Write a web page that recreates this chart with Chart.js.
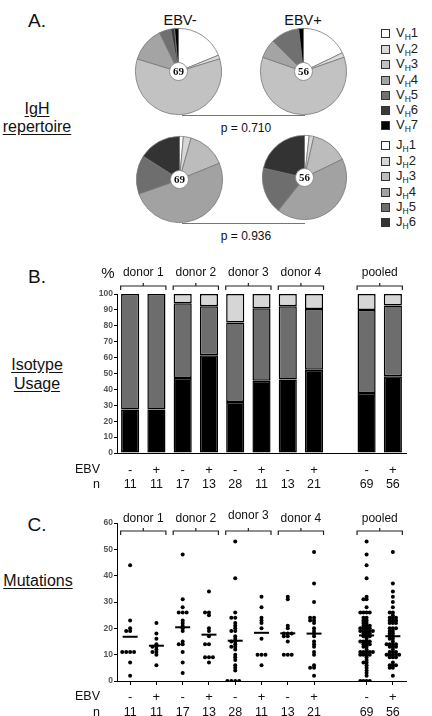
<!DOCTYPE html>
<html>
<head>
<meta charset="utf-8">
<script src="https://cdn.jsdelivr.net/npm/chart.js@4.4.1/dist/chart.umd.min.js"></script>
<style>
  body { margin: 0; width: 432px; height: 716px; position: relative; overflow: hidden; background: #fff;
         font-family: "Liberation Sans", Arial, sans-serif; color: #111; }
  .t { position: absolute; white-space: nowrap; line-height: 1; transform: translate(-50%, -50%); }
  .u { text-decoration: underline; text-underline-offset: 2px; }
  .box { position: absolute; }
  .rule { position: absolute; border-top: 1.5px solid #777; }
  .leg { position: absolute; font-size: 13px; line-height: 1; white-space: nowrap; color: #222; }
  .leg i { display: inline-block; width: 7px; height: 7px; border: 1.5px solid #333; vertical-align: -1px; margin-right: 6px; }
  .leg sub { font-size: 8.5px; vertical-align: -3px; line-height: 0; color: #222; }
</style>
</head>
<body>

<div class="t" style="left:37px;top:20px;font-size:19px">A.</div>
<div class="t" style="left:180px;top:20px;font-size:14.5px">EBV-</div>
<div class="t" style="left:303px;top:20px;font-size:14.5px">EBV+</div>
<div class="t u" style="left:37px;top:109px;font-size:16px">IgH</div>
<div class="t u" style="left:37px;top:127px;font-size:16px">repertoire</div>
<div class="rule" style="left:182px;top:115px;width:123px"></div>
<div class="t" style="left:246px;top:128px;font-size:12px">p = 0.710</div>
<div class="rule" style="left:182px;top:223px;width:123px"></div>
<div class="t" style="left:246px;top:236px;font-size:12px">p = 0.936</div>

<div class="box" style="left:134px;top:27px;width:89px;height:89px"><canvas id="pieVhNeg"></canvas></div>
<div class="box" style="left:259px;top:27px;width:89px;height:89px"><canvas id="pieVhPos"></canvas></div>
<div class="box" style="left:135px;top:135px;width:89px;height:89px"><canvas id="pieJhNeg"></canvas></div>
<div class="box" style="left:261px;top:134px;width:87px;height:87px"><canvas id="pieJhPos"></canvas></div>

<div id="legend"></div>

<div class="t" style="left:37px;top:276px;font-size:19px">B.</div>
<div class="t u" style="left:37px;top:365px;font-size:16px">Isotype</div>
<div class="t u" style="left:37px;top:384px;font-size:16px">Usage</div>
<div class="box" style="left:0;top:260px;width:432px;height:240px"><canvas id="barB"></canvas></div>

<div class="t" style="left:37px;top:524px;font-size:19px">C.</div>
<div class="t u" style="left:38px;top:581px;font-size:16px">Mutations</div>
<div class="box" style="left:0;top:500px;width:432px;height:216px"><canvas id="dotC"></canvas></div>

<script>
// ---- A: IgH repertoire (sequence counts per gene family) ----
const vhLabels = ["VH1", "VH2", "VH3", "VH4", "VH5", "VH6", "VH7"];
const jhLabels = ["JH1", "JH2", "JH3", "JH4", "JH5", "JH6"];
const vhNeg = [13, 1, 41, 9, 3, 1, 1];
const vhPos = [10, 1, 34, 4, 6, 0, 1];
const jhNeg = [1, 2, 10, 35, 10, 11];
const jhPos = [1, 1, 8, 24, 10, 12];

// ---- B: isotype usage (%) ----
const groupKeys = ["d1-", "d1+", "d2-", "d2+", "d3-", "d3+", "d4-", "d4+", "", "pool-", "pool+"];
const ebvSigns = ["-", "+", "-", "+", "-", "+", "-", "+", "", "-", "+"];
const nCounts = ["11", "11", "17", "13", "28", "11", "13", "21", "", "69", "56"];
const isoBottom = [27.3, 27.3, 47.1, 61.5, 32.1, 45.5, 46.2, 52.4, null, 37.7, 48.2];
const isoMiddle = [72.7, 72.7, 47.1, 30.8, 50.0, 45.5, 46.1, 38.1, null, 52.2, 44.6];
const isoTop = [null, null, 5.8, 7.7, 17.9, 9.0, 7.7, 9.5, null, 10.1, 7.2];

const donorBrackets = [
  { from: 0, to: 1, label: "donor 1" },
  { from: 2, to: 3, label: "donor 2" },
  { from: 4, to: 5, label: "donor 3" },
  { from: 6, to: 7, label: "donor 4" },
  { from: 9, to: 10, label: "pooled" }
];

// ---- C: mutations per sequence ----
const mutD1Neg = [44, 23, 20, 19, 19, 11, 11, 11, 11, 7, 2];
const mutD1Pos = [22, 18, 16, 14, 13, 13, 12, 11, 11, 10, 6];
const mutD2Neg = [48, 31, 28, 26, 26, 26, 23, 22, 21, 20, 19, 15, 14, 14, 11, 7, 3];
const mutD2Pos = [34, 26, 26, 25, 20, 19, 17, 14, 14, 9, 9, 9, 7];
const mutD3Neg = [53, 39, 26, 24, 24, 22, 21, 20, 19, 19, 17, 16, 15, 15, 14, 13, 13, 12, 10, 9, 8, 6, 5, 4, 0, 0, 0, 0];
const mutD3Pos = [32, 28, 24, 23, 22, 20, 16, 10, 10, 10, 6];
const mutD4Neg = [32, 31, 21, 20, 18, 18, 18, 17, 17, 15, 10, 10, 10];
const mutD4Pos = [49, 37, 30, 24, 24, 23, 23, 22, 20, 19, 18, 17, 15, 14, 13, 11, 10, 6, 5, 5, 2];
const mutPoolNeg = [].concat(mutD1Neg, mutD2Neg, mutD3Neg, mutD4Neg);
const mutPoolPos = [].concat(mutD1Pos, mutD2Pos, mutD3Pos, mutD4Pos);
const mutGroups = [mutD1Neg, mutD1Pos, mutD2Neg, mutD2Pos, mutD3Neg, mutD3Pos, mutD4Neg, mutD4Pos, null, mutPoolNeg, mutPoolPos];
const mutMeans = [16.8, 13.4, 20.4, 17.6, 15.3, 18.3, 18.1, 18.0, null, 17.3, 17.0];

// colours
const vhColors = ["#ffffff", "#dadada", "#c2c2c2", "#a4a4a4", "#707070", "#3a3a3a", "#000000"];
const jhColors = ["#ffffff", "#d6d6d6", "#bcbcbc", "#a2a2a2", "#6e6e6e", "#333333"];

Chart.defaults.font.family = '"Liberation Sans", Arial, sans-serif';
Chart.defaults.animation = false;
Chart.defaults.events = [];
Chart.defaults.plugins.legend.display = false;
Chart.defaults.plugins.tooltip.enabled = false;
Chart.defaults.maintainAspectRatio = false;

// legend (HTML)
const legend = document.getElementById("legend");
function addLegend(labels, colors, tops) {
  labels.forEach((lab, i) => {
    const d = document.createElement("div");
    d.className = "leg";
    d.style.left = "381px";
    d.style.top = (tops[i] - 6) + "px";
    d.innerHTML = `<i style="background:${colors[i]}"></i>${lab[0]}<sub>H</sub>${lab.slice(2)}`;
    legend.appendChild(d);
  });
}
addLegend(vhLabels, vhColors, [32, 47.5, 63, 78.5, 94, 109, 124]);
addLegend(jhLabels, jhColors, [144, 159.5, 175, 190.5, 206, 221]);

// pies
const centerLabel = {
  id: "centerLabel",
  afterDraw(chart, args, opts) {
    const { ctx, chartArea } = chart;
    const cx = (chartArea.left + chartArea.right) / 2;
    const cy = (chartArea.top + chartArea.bottom) / 2;
    ctx.save();
    ctx.beginPath();
    ctx.arc(cx, cy, 9, 0, Math.PI * 2);
    ctx.fillStyle = "#fff";
    ctx.fill();
    ctx.strokeStyle = "#888";
    ctx.lineWidth = 0.8;
    ctx.stroke();
    ctx.fillStyle = "#111";
    ctx.font = 'bold 11px "Liberation Serif", "Times New Roman", serif';
    ctx.textAlign = "center";
    ctx.textBaseline = "middle";
    ctx.fillText(opts.text, cx, cy + 0.5);
    ctx.restore();
  }
};

function makePie(id, labels, counts, colors, total) {
  new Chart(document.getElementById(id), {
    type: "doughnut",
    data: {
      labels: labels,
      datasets: [{ data: counts, backgroundColor: colors, borderColor: "#777", borderWidth: 0.8 }]
    },
    options: {
      cutout: "20%",
      layout: { padding: 1 },
      plugins: { centerLabel: { text: String(total) } }
    },
    plugins: [centerLabel]
  });
}
makePie("pieVhNeg", vhLabels, vhNeg, vhColors, 69);
makePie("pieVhPos", vhLabels, vhPos, vhColors, 56);
makePie("pieJhNeg", jhLabels, jhNeg, jhColors, 69);
makePie("pieJhPos", jhLabels, jhPos, jhColors, 56);

// brackets, donor labels and the EBV / n rows under the axis
function panelDecor(o) {
  return {
    id: "panelDecor",
    afterDraw(chart) {
      const ctx = chart.ctx;
      const xs = chart.scales.x;
      ctx.save();
      ctx.strokeStyle = "#222";
      ctx.fillStyle = "#111";
      ctx.lineWidth = 1.2;
      ctx.textAlign = "center";
      ctx.textBaseline = "middle";
      donorBrackets.forEach((b, k) => {
        const x0 = xs.getPixelForValue(b.from) - 9.5;
        const x1 = xs.getPixelForValue(b.to) + 9.5;
        const xm = (x0 + x1) / 2;
        const y = o.bracketY;
        ctx.beginPath();
        ctx.moveTo(x0, y + 4); ctx.lineTo(x0, y); ctx.lineTo(x1, y); ctx.lineTo(x1, y + 4);
        ctx.moveTo(xm, y); ctx.lineTo(xm, y - 3);
        ctx.stroke();
        ctx.font = "12px 'Liberation Sans', Arial, sans-serif";
        ctx.fillText(b.label, xm, o.labelY + (o.labelShift ? o.labelShift[k] : 0));
      });
      ctx.textAlign = "right";
      ctx.font = "12.5px 'Liberation Sans', Arial, sans-serif";
      ctx.fillText("EBV", 100, o.signY);
      ctx.fillText("n", 100, o.nY);
      ctx.textAlign = "center";
      groupKeys.forEach((g, i) => {
        if (!g) return;
        const x = xs.getPixelForValue(i);
        ctx.font = "13px 'Liberation Sans', Arial, sans-serif";
        ctx.fillText(ebvSigns[i], x, o.signY);
        ctx.font = "12.5px 'Liberation Sans', Arial, sans-serif";
        ctx.fillText(nCounts[i], x, o.nY);
      });
      if (o.percent) {
        ctx.font = "15px 'Liberation Sans', Arial, sans-serif";
        ctx.fillText("%", 108, o.labelY + 1);
      }
      ctx.restore();
    }
  };
}

const tickFont = { size: 8.5, weight: "bold" };

// B: stacked bars
new Chart(document.getElementById("barB"), {
  type: "bar",
  data: {
    labels: groupKeys,
    datasets: [
      { data: isoBottom, backgroundColor: "#000" },
      { data: isoMiddle, backgroundColor: "#6d6d6d" },
      { data: isoTop, backgroundColor: "#d6d6d6" }
    ]
  },
  options: {
    layout: { padding: { top: 34, right: 26, left: 0, bottom: 0 } },
    datasets: {
      bar: { borderColor: "#000", borderWidth: 1.5, borderSkipped: false, barPercentage: 0.69, categoryPercentage: 1 }
    },
    scales: {
      x: {
        stacked: true,
        grid: { display: false },
        border: { color: "#000", width: 1 },
        ticks: { display: false },
        afterFit: s => { s.height = 47; }
      },
      y: {
        stacked: true, min: 0, max: 100,
        ticks: { stepSize: 10, color: "#555", font: tickFont, padding: 1 },
        grid: { drawOnChartArea: false, tickLength: 3, color: "#000" },
        border: { color: "#000", width: 1 },
        afterFit: s => { s.width = 117; }
      }
    }
  },
  plugins: [panelDecor({ bracketY: 26, labelY: 13, signY: 210, nY: 225, percent: true })]
});

// C: dot plot with mean bars; tied values are spread sideways
function spread(vals, center, step) {
  const placed = [];
  return vals.slice().sort((a, b) => a - b).map(v => {
    let slot = 0;
    for (let s = 0; s < 40; s++) {
      const cand = s === 0 ? 0 : (s % 2 ? -(s + 1) / 2 : s / 2);
      if (!placed.some(p => p.slot === cand && Math.abs(p.y - v) < 1.0)) { slot = cand; break; }
    }
    placed.push({ slot: slot, y: v });
    return { x: center + slot * step, y: v };
  });
}
const dotPoints = [];
mutGroups.forEach((g, i) => { if (g) dotPoints.push(...spread(g, i, g.length > 40 ? 0.12 : 0.15)); });
const meanPoints = mutMeans.map((m, i) => m == null ? null : { x: i, y: m }).filter(Boolean);
const tickIdx = groupKeys.map((g, i) => g ? i : null).filter(v => v !== null);

new Chart(document.getElementById("dotC"), {
  type: "scatter",
  data: {
    datasets: [
      { data: dotPoints, pointRadius: 2, pointBackgroundColor: "#000", pointBorderWidth: 0 },
      { data: meanPoints, pointStyle: "line", pointRadius: 7.5, pointBorderColor: "#000", pointBorderWidth: 2 }
    ]
  },
  options: {
    layout: { padding: { top: 23, right: 26, left: 0, bottom: 0 } },
    scales: {
      x: {
        type: "linear", min: -0.5, max: 10.5,
        afterBuildTicks: s => { s.ticks = tickIdx.map(v => ({ value: v })); },
        ticks: { callback: () => "" },
        grid: { drawOnChartArea: false, tickLength: 4, color: "#000" },
        border: { color: "#000", width: 1 },
        afterFit: s => { s.height = 35; }
      },
      y: {
        min: 0, max: 60,
        ticks: { stepSize: 10, color: "#555", font: tickFont, padding: 1 },
        grid: { drawOnChartArea: false, tickLength: 3, color: "#000" },
        border: { color: "#000", width: 1 },
        afterFit: s => { s.width = 117; }
      }
    }
  },
  plugins: [panelDecor({ bracketY: 31, labelY: 19, labelShift: [0, 0, -3, 0, 0], signY: 197, nY: 213 })]
});
</script>
</body>
</html>
